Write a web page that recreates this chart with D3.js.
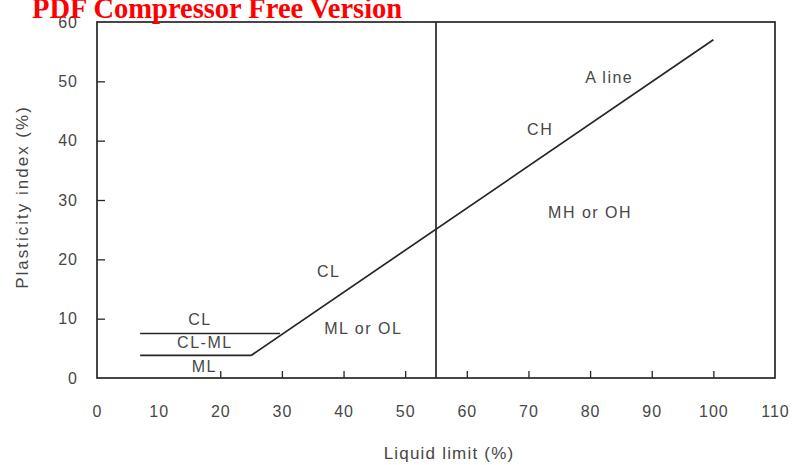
<!DOCTYPE html>
<html>
<head>
<meta charset="utf-8">
<script src="https://cdn.jsdelivr.net/npm/d3@7"></script>
<style>
  html, body { margin: 0; padding: 0; background: #fff; }
  svg { display: block; }
</style>
</head>
<body>
<svg id="chart" width="796" height="465"></svg>
<script>
// Plasticity chart: liquid limit vs plasticity index
const xTicks = [0, 10, 20, 30, 40, 50, 60, 70, 80, 90, 100, 110];
const yTicks = [0, 10, 20, 30, 40, 50, 60];
const xInnerTicks = [20, 30, 40, 50, 60, 70, 80, 90, 100];
const yInnerTicks = [10, 20, 30, 40, 50];

// A line (sloped boundary), liquid limit / plasticity index pairs
const aLineLL = [25, 100];
const aLinePI = [3.8, 57];

// Horizontal boundaries of the CL-ML band
const clLineLL = [7, 29.7];
const clLinePI = [7.5, 7.5];
const mlLineLL = [7, 25];
const mlLinePI = [3.8, 3.8];

// Vertical boundary between low and high liquid limit
const llBoundary = 55;

// Zone labels and their anchor points
const zoneNames = ["CL", "CL-ML", "ML", "ML or OL", "CL", "CH", "A line", "MH or OH"];
const zoneLL = [16.7, 17.5, 17.4, 43.2, 37.6, 71.9, 83.1, 80];
const zonePI = [9.6, 5.8, 1.8, 8.1, 17.7, 41.6, 50.4, 27.6];

const svg = d3.select("#chart");
const margin = { left: 97, right: 21, top: 22, bottom: 87 };
const W = 796, H = 465;

const x = d3.scaleLinear().domain([0, 110]).range([margin.left, W - margin.right]);
const y = d3.scaleLinear().domain([0, 60]).range([H - margin.bottom, margin.top]);

const ink = "#262626";
const textInk = "#474747";
const font = "Liberation Sans, Arial, sans-serif";

// Frame
svg.append("rect")
  .attr("x", x(0)).attr("y", y(60))
  .attr("width", x(110) - x(0)).attr("height", y(0) - y(60))
  .attr("fill", "none").attr("stroke", ink).attr("stroke-width", 1.7);

// Inward tick marks
const xAxisTicks = d3.axisBottom(x).tickValues(xInnerTicks).tickSizeInner(-7).tickSizeOuter(0).tickFormat("");
svg.append("g").attr("transform", `translate(0,${y(0)})`).call(xAxisTicks)
  .call(g => g.select(".domain").remove())
  .call(g => g.selectAll("line").attr("stroke", ink).attr("stroke-width", 1.3));

const yAxisTicks = d3.axisLeft(y).tickValues(yInnerTicks).tickSizeInner(-8).tickSizeOuter(0).tickFormat("");
svg.append("g").attr("transform", `translate(${x(0)},0)`).call(yAxisTicks)
  .call(g => g.select(".domain").remove())
  .call(g => g.selectAll("line").attr("stroke", ink).attr("stroke-width", 1.3));

// Tick labels
const xLab = d3.axisBottom(x).tickValues(xTicks).tickSize(0).tickPadding(28).tickFormat(d3.format("d"));
svg.append("g").attr("transform", `translate(0,${y(0)})`).call(xLab)
  .call(g => g.select(".domain").remove())
  .call(g => g.selectAll("text").attr("fill", textInk).attr("font-family", font)
    .attr("font-size", 16).attr("letter-spacing", 1));

const yLab = d3.axisLeft(y).tickValues(yTicks).tickSize(0).tickPadding(19).tickFormat(d3.format("d"));
svg.append("g").attr("transform", `translate(${x(0)},0)`).call(yLab)
  .call(g => g.select(".domain").remove())
  .call(g => g.selectAll("text").attr("fill", textInk).attr("font-family", font)
    .attr("font-size", 16).attr("letter-spacing", 1));

// Boundary lines
const line = d3.line().x(d => x(d[0])).y(d => y(d[1]));
const seg = (lls, pis) => lls.map((v, i) => [v, pis[i]]);

[[aLineLL, aLinePI], [clLineLL, clLinePI], [mlLineLL, mlLinePI]].forEach(([lls, pis]) => {
  svg.append("path").attr("d", line(seg(lls, pis)))
    .attr("fill", "none").attr("stroke", ink).attr("stroke-width", 1.7);
});
svg.append("path").attr("d", line([[llBoundary, 0], [llBoundary, 60]]))
  .attr("fill", "none").attr("stroke", ink).attr("stroke-width", 1.7);

// Zone labels
svg.append("g").selectAll("text").data(zoneNames).join("text")
  .attr("x", (d, i) => x(zoneLL[i]))
  .attr("y", (d, i) => y(zonePI[i]))
  .attr("text-anchor", "middle")
  .attr("dominant-baseline", "middle")
  .attr("fill", textInk)
  .attr("font-family", font)
  .attr("font-size", 16)
  .attr("letter-spacing", 1.5)
  .text(d => d);

// Axis titles
svg.append("text")
  .attr("x", 449).attr("y", 459)
  .attr("text-anchor", "middle")
  .attr("fill", textInk).attr("font-family", font).attr("font-size", 17)
  .attr("letter-spacing", 1.2)
  .text("Liquid limit (%)");

svg.append("text")
  .attr("transform", `translate(28,197) rotate(-90)`)
  .attr("text-anchor", "middle")
  .attr("fill", textInk).attr("font-family", font).attr("font-size", 17)
  .attr("letter-spacing", 2)
  .text("Plasticity index (%)");

// Watermark banner
svg.append("text")
  .attr("x", 32).attr("y", 18)
  .attr("fill", "#ff0000")
  .attr("font-family", "Liberation Serif, Times New Roman, serif")
  .attr("font-weight", "bold")
  .attr("font-size", 28.5)
  .text("PDF Compressor Free Version");
</script>
</body>
</html>
